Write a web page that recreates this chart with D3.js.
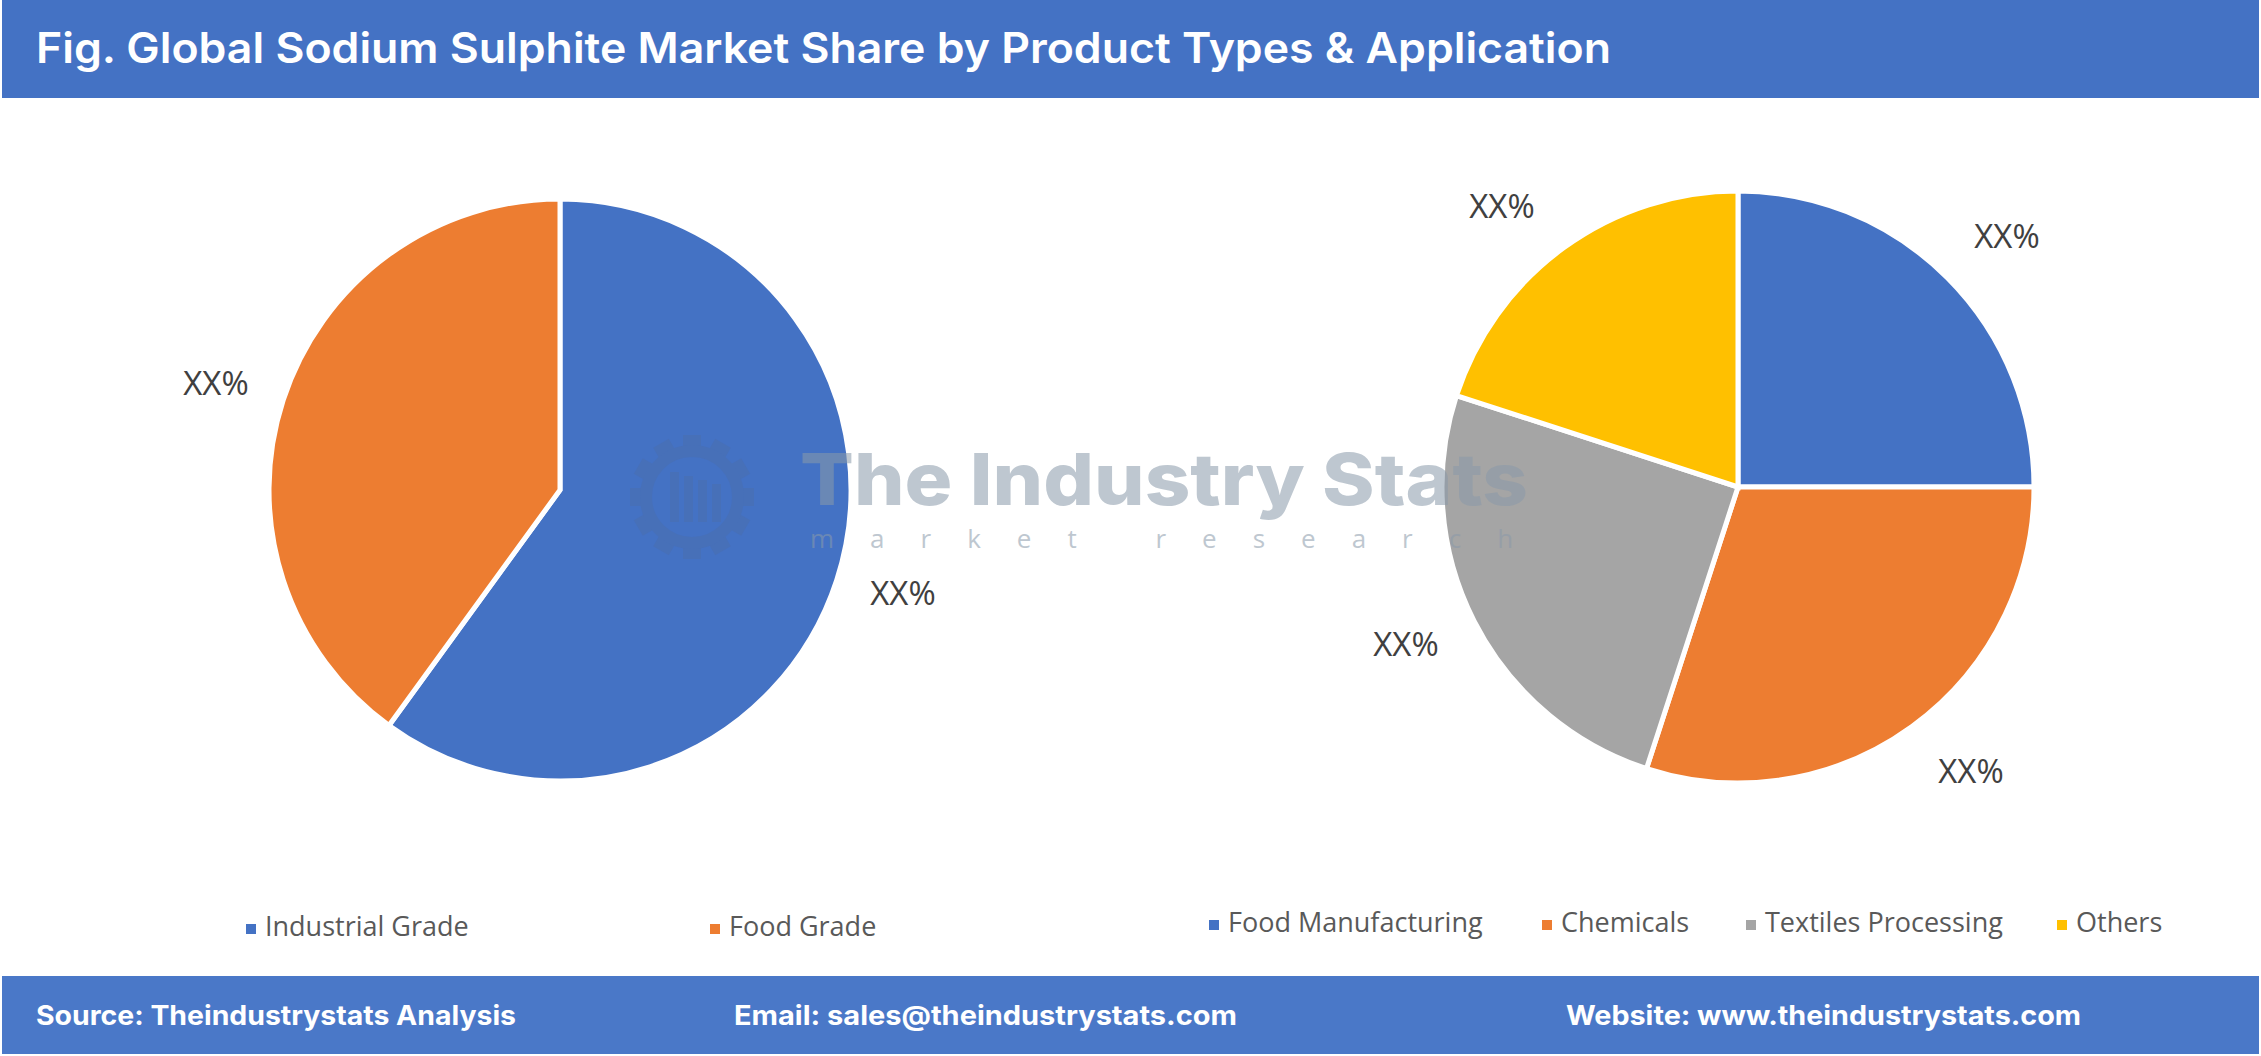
<!DOCTYPE html>
<html><head><meta charset="utf-8">
<script src="https://cdn.jsdelivr.net/npm/d3@7"></script>
<style>body{margin:0;background:#fff}svg{display:block}</style>
</head><body>
<script>
// product types
const typeNames = ["Industrial Grade", "Food Grade"];
const typeShares = [60, 40];
const typeLabels = ["XX%", "XX%"];
// applications
const appNames = ["Food Manufacturing", "Chemicals", "Textiles Processing", "Others"];
const appShares = [25, 30, 25, 20];
const appLabels = ["XX%", "XX%", "XX%", "XX%"];
const colors = ["#4472C4", "#ED7D31", "#A5A5A5", "#FFC000"];

const W = 2261, H = 1056;
const svg = d3.select("body").append("svg").attr("width", W).attr("height", H);

// header
svg.append("rect").attr("x", 2).attr("y", 0).attr("width", W - 4).attr("height", 98).attr("fill", "#4472C4");
svg.append("text").attr("x", 36).attr("y", 63).attr("fill", "#fff")
  .attr("font-family", "Inter, Roboto, sans-serif").attr("font-weight", 600).attr("font-size", 42)
  .attr("textLength", 1575).attr("lengthAdjust", "spacingAndGlyphs")
  .text("Fig. Global Sodium Sulphite Market Share by Product Types & Application");

// footer
svg.append("rect").attr("x", 2).attr("y", 976).attr("width", W - 4).attr("height", 78).attr("fill", "#4A78C8");
const foot = [["Source: Theindustrystats Analysis", 36, 480], ["Email: sales@theindustrystats.com", 734, 503], ["Website: www.theindustrystats.com", 1566, 515]];
svg.selectAll(".foot").data(foot).join("text").attr("x", d => d[1]).attr("y", 1025)
  .attr("fill", "#fff").attr("font-family", "Inter, Roboto, sans-serif").attr("font-weight", 700)
  .attr("font-size", 27).attr("textLength", d => d[2]).attr("lengthAdjust", "spacingAndGlyphs").text(d => d[0]);

function pie(cx, cy, r, values, labels, labelPos) {
  const g = svg.append("g").attr("transform", `translate(${cx},${cy})`);
  const arcs = d3.pie().sort(null)(values);
  const arc = d3.arc().innerRadius(0).outerRadius(r);
  g.selectAll("path").data(arcs).join("path").attr("d", arc)
    .attr("fill", (d, i) => colors[i]).attr("stroke", "#fff").attr("stroke-width", 5);
  g.selectAll("text").data(arcs).join("text")
    .attr("x", (d, i) => labelPos[i][0] - cx).attr("y", (d, i) => labelPos[i][1] - cy)
    .attr("text-anchor", "middle").attr("dominant-baseline", "middle")
    .attr("font-family", "Open Sans, sans-serif").attr("font-size", 33).attr("fill", "#404040")
    .text((d, i) => labels[i]);
}
pie(560, 490, 291, typeShares, typeLabels, [[903, 596], [216, 386]]);
pie(1738, 487, 296, appShares, appLabels, [[2007, 239], [1971, 774], [1406, 647], [1502, 209]]);

// watermark
const wm = svg.append("g").attr("opacity", 0.55);
const gear = wm.append("g").attr("transform", "translate(692,497)");
d3.range(12).forEach(i => gear.append("rect").attr("x", -9).attr("y", -62).attr("width", 18).attr("height", 20)
  .attr("fill", "#4A6FB0").attr("transform", `rotate(${i * 30})`));
gear.append("circle").attr("r", 46).attr("fill", "none").attr("stroke", "#4A6FB0").attr("stroke-width", 12);
[-22, -8, 6, 20].forEach((x, i) => gear.append("rect").attr("x", x).attr("y", -25 + i * 4).attr("width", 9).attr("height", 50 - i * 4).attr("fill", "#4A6FB0"));
wm.append("text").attr("x", 800).attr("y", 505).attr("font-family", "Inter, Roboto, sans-serif")
  .attr("font-weight", 800).attr("font-size", 72).attr("fill", "#8A9AAA")
  .attr("textLength", 728).attr("lengthAdjust", "spacingAndGlyphs").text("The Industry Stats");
wm.append("text").attr("x", 810).attr("y", 548).attr("font-family", "Open Sans, sans-serif")
  .attr("font-size", 26).attr("fill", "#8A9AAA").attr("letter-spacing", 36).text("market research");

// legends
function legend(names, xs, y) {
  const g = svg.append("g");
  names.forEach((n, i) => {
    g.append("rect").attr("x", xs[i] - 5).attr("y", y - 5).attr("width", 10).attr("height", 10).attr("fill", colors[i]);
    g.append("text").attr("x", xs[i] + 14).attr("y", y).attr("dominant-baseline", "middle")
      .attr("font-family", "Open Sans, sans-serif").attr("font-size", 27).attr("fill", "#595959").text(n);
  });
}
legend(typeNames, [251, 715], 929);
legend(appNames, [1214, 1547, 1751, 2062], 925);
</script>
</body></html>
